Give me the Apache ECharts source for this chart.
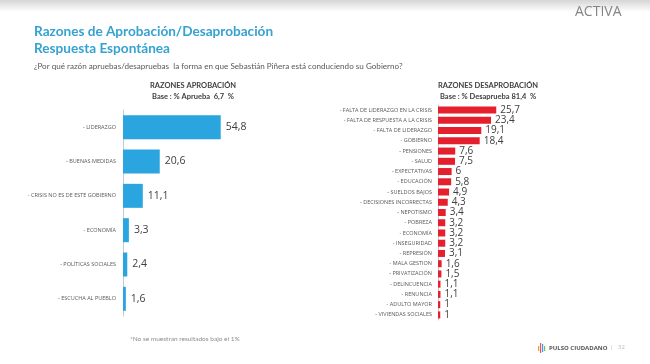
<!DOCTYPE html>
<html><head><meta charset="utf-8">
<script src="https://cdn.jsdelivr.net/npm/echarts@6/dist/echarts.min.js"></script>
<style>html,body{margin:0;padding:0;background:#fff}#c{width:650px;height:364px}</style>
</head><body><div id="c"></div>
<script>
const aprobCats = ['- LIDERAZGO','- BUENAS MEDIDAS','- CRISIS NO ES DE ESTE GOBIERNO','- ECONOMÍA','- POLÍTICAS SOCIALES','- ESCUCHA AL PUEBLO'];
const aprobVals = [54.8, 20.6, 11.1, 3.3, 2.4, 1.6];
const desCats = ['- FALTA DE LIDERAZGO EN LA CRISIS','- FALTA DE RESPUESTA A LA CRISIS','- FALTA DE LIDERAZGO','- GOBIERNO','- PENSIONES','- SALUD','- EXPECTATIVAS','- EDUCACIÓN','- SUELDOS BAJOS','- DECISIONES INCORRECTAS','- NEPOTISMO','- POBREZA','- ECONOMÍA','- INSEGURIDAD','- REPRESIÓN','- MALA GESTION','- PRIVATIZACIÓN','- DELINCUENCIA','- RENUNCIA','- ADULTO MAYOR','- VIVIENDAS SOCIALES'];
const desVals = [25.7, 23.4, 19.1, 18.4, 7.6, 7.5, 6, 5.8, 4.9, 4.3, 3.4, 3.2, 3.2, 3.2, 3.1, 1.6, 1.5, 1.1, 1.1, 1, 1];

const fmt = v => String(v).replace('.', ',');
const chart = echarts.init(document.getElementById('c'));
const F = 'Lato';
const FO = 'Open Sans';
chart.setOption({
  animation: false,
  textStyle: {fontFamily: FO},
  title: [
    {text: 'Razones de Aprobación/Desaprobación\nRespuesta Espontánea', left: 29, top: 18,
     textStyle: {color: '#35a2d2', fontSize: 13.6, fontWeight: 'bold', fontFamily: F, lineHeight: 17}},
    {text: '¿Por qué razón apruebas/desapruebas  la forma en que Sebastián Piñera está conduciendo su Gobierno?', left: 29, top: 57,
     textStyle: {color: '#595959', fontSize: 8.1, fontWeight: 'normal', fontFamily: F}},
    {text: 'RAZONES APROBACIÓN', left: 188, top: 77, textAlign: 'center',
     textStyle: {color: '#404040', fontSize: 7.5, fontWeight: 'bold', fontFamily: F}},
    {text: 'Base : % Aprueba  6,7  %', left: 188, top: 88, textAlign: 'center',
     textStyle: {color: '#404040', fontSize: 7.5, fontWeight: 'bold', fontFamily: F}},
    {text: 'RAZONES DESAPROBACIÓN', left: 483, top: 77, textAlign: 'center',
     textStyle: {color: '#404040', fontSize: 7.5, fontWeight: 'bold', fontFamily: F}},
    {text: 'Base : % Desaprueba 81,4  %', left: 483, top: 88, textAlign: 'center',
     textStyle: {color: '#404040', fontSize: 7.5, fontWeight: 'bold', fontFamily: F}},
    {text: '*No se muestran resultados bajo el 1%', left: 125, top: 330,
     textStyle: {color: '#8c8c8c', fontSize: 6.5, fontWeight: 'normal', fontFamily: F}}
  ],
  grid: [
    {left: 123, top: 110, width: 107, height: 206, containLabel: false},
    {left: 438, top: 105, width: 68, height: 215, containLabel: false}
  ],
  xAxis: [
    {gridIndex: 0, type: 'value', min: 0, max: 60, show: false},
    {gridIndex: 1, type: 'value', min: 0, max: 30, show: false}
  ],
  yAxis: [
    {gridIndex: 0, type: 'category', data: aprobCats, inverse: true,
     axisLine: {lineStyle: {color: '#c8c8c8'}}, axisTick: {show: false},
     axisLabel: {color: '#595959', fontSize: 5.5, margin: 7}},
    {gridIndex: 1, type: 'category', data: desCats, inverse: true,
     axisLine: {lineStyle: {color: '#c8c8c8'}}, axisTick: {show: false},
     axisLabel: {color: '#595959', fontSize: 5.5, margin: 6}}
  ],
  series: [
    {type: 'bar', xAxisIndex: 0, yAxisIndex: 0, data: aprobVals, barWidth: 24,
     itemStyle: {color: '#2ba5df'},
     label: {show: true, position: 'right', distance: 5, color: '#404040', fontSize: 10.5, formatter: p => fmt(p.value)}},
    {type: 'bar', xAxisIndex: 1, yAxisIndex: 1, data: desVals, barWidth: 7,
     itemStyle: {color: '#e5202e'},
     label: {show: true, position: 'right', distance: 4, color: '#404040', fontSize: 10, formatter: p => fmt(p.value)}}
  ],
  graphic: [
    {type: 'rect', left: 0, top: 0, shape: {width: 650, height: 12}, z: -1,
     style: {fill: new echarts.graphic.LinearGradient(0, 0, 0, 1, [{offset: 0, color: '#d6d6d6'}, {offset: 1, color: '#ffffff'}])}},
    {type: 'text', left: 575, top: 5, style: {text: 'ACTIVA', fill: '#858585', font: '14px "Open Sans"', letterSpacing: 4}},
    {type: 'group', left: 538, top: 343, children: [
      {type: 'rect', shape: {x: 0, y: 3, width: 1.2, height: 5}, style: {fill: '#f39c12'}},
      {type: 'rect', shape: {x: 2, y: 0, width: 1.2, height: 10}, style: {fill: '#e84c8a'}},
      {type: 'rect', shape: {x: 4, y: 1, width: 1.2, height: 8}, style: {fill: '#2ba5df'}},
      {type: 'rect', shape: {x: 6, y: 3, width: 1.2, height: 5}, style: {fill: '#7ac143'}},
      {type: 'text', x: 11, y: 2, style: {text: 'PULSO CIUDADANO', fill: '#555', font: 'bold 6px "Open Sans"'}},
      {type: 'text', x: 72, y: 1, style: {text: '|   32', fill: '#bbb', font: '6px "Open Sans"'}}
    ]}
  ]
});
</script></body></html>
